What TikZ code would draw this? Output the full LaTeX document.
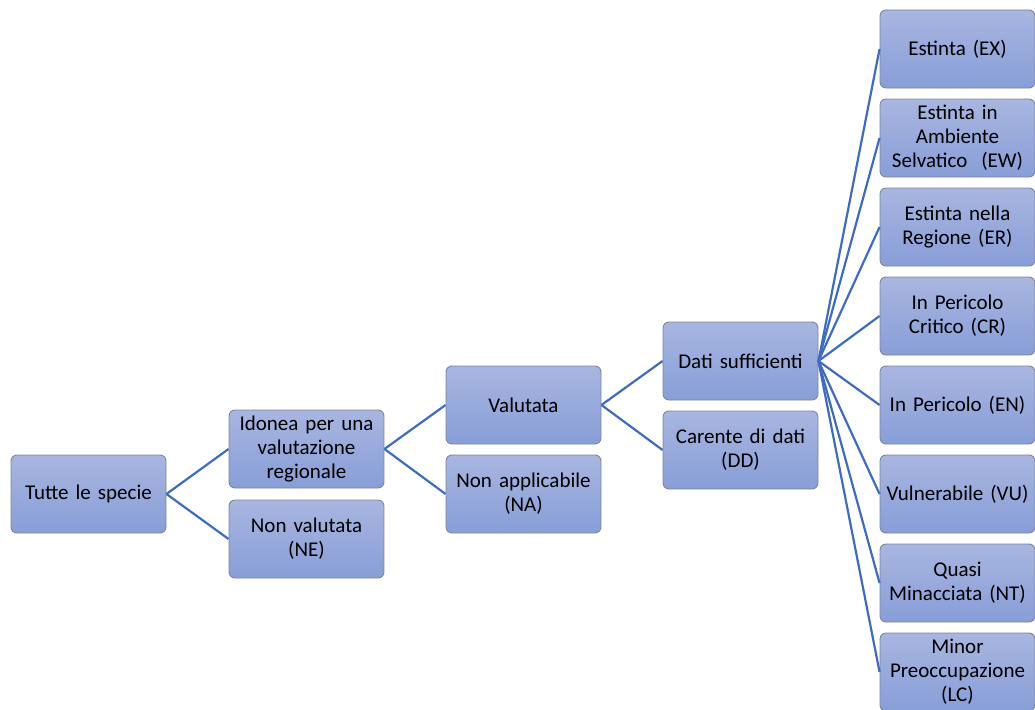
\documentclass[tikz,border=0pt]{standalone}
\usepackage{fontspec}
\setmainfont{Carlito}[WordSpace=0.9]
\definecolor{boxtop}{RGB}{168,182,224}
\definecolor{boxbot}{RGB}{136,158,216}
\definecolor{boxline}{RGB}{125,133,152}
\definecolor{link}{RGB}{64,108,190}
\tikzset{
  catbox/.style={draw=boxline, line width=0.9pt, rounded corners=6pt,
    top color=boxtop, bottom color=boxbot, minimum width=155pt, minimum height=78pt,
    inner sep=0pt, text width=152pt, align=center, text=black,
    font=\fontsize{21}{24}\selectfont},
  link/.style={draw=link, line width=2.2pt}
}
\begin{document}
\begin{tikzpicture}[x=1pt,y=-1pt]
\useasboundingbox (0,0) rectangle (1035,709);
\node[catbox] (all) at (88.5,494) {Tutte le specie};
\node[catbox] (ido) at (306.5,449) {Idonea per una\\valutazione\\regionale};
\node[catbox] (ne) at (306.5,539) {Non valutata\\(NE)};
\node[catbox] (val) at (523.5,405) {Valutata};
\node[catbox] (na) at (523.5,494) {Non applicabile\\(NA)};
\node[catbox] (ds) at (740.5,361) {Dati sufficienti};
\node[catbox] (dd) at (740.5,450) {Carente di dati\\(DD)};
\node[catbox] (ex) at (957.5,49) {Estinta (EX)};
\node[catbox] (ew) at (957.5,138) {Estinta in\\Ambiente\\Selvatico\ \ (EW)};
\node[catbox] (er) at (957.5,227) {Estinta nella\\Regione (ER)};
\node[catbox] (cr) at (957.5,316) {In Pericolo\\Critico (CR)};
\node[catbox] (en) at (957.5,405) {In Pericolo (EN)};
\node[catbox] (vu) at (957.5,494) {Vulnerabile (VU)};
\node[catbox] (nt) at (957.5,583) {Quasi\\Minacciata (NT)};
\node[catbox] (lc) at (957.5,672) {Minor\\Preoccupazione\\(LC)};
\draw[link] (all.east) -- (ido.west);
\draw[link] (all.east) -- (ne.west);
\draw[link] (ido.east) -- (val.west);
\draw[link] (ido.east) -- (na.west);
\draw[link] (val.east) -- (ds.west);
\draw[link] (val.east) -- (dd.west);
\foreach \t in {ex,ew,er,cr,en,vu,nt,lc}
  \draw[link] (ds.east) -- (\t.west);
\end{tikzpicture}
\end{document}
